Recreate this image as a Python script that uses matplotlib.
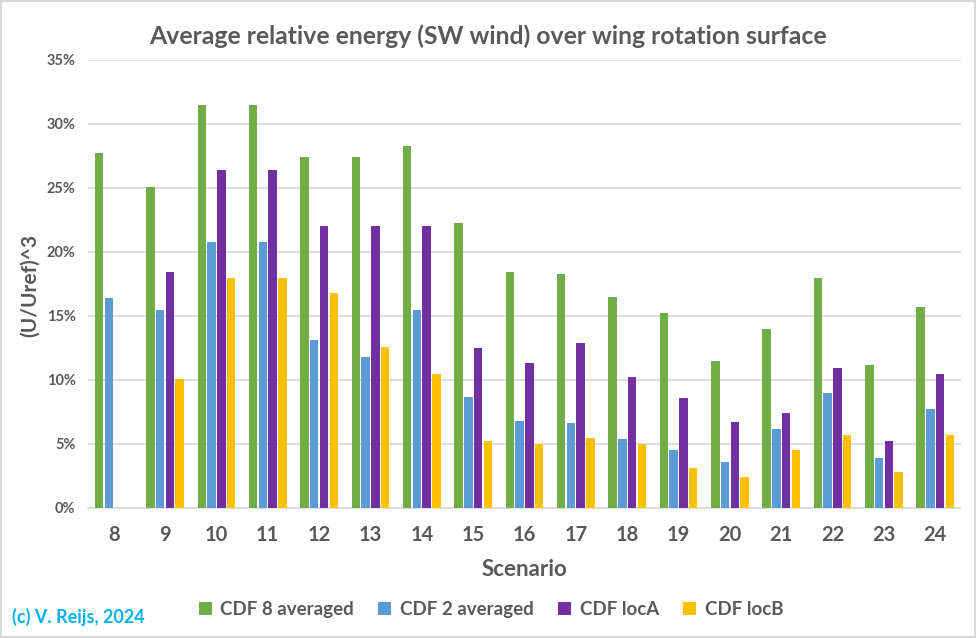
import numpy as np
import matplotlib
matplotlib.use("Agg")
import matplotlib.pyplot as plt
from matplotlib.ticker import PercentFormatter

scenarios = ["8", "9", "10", "11", "12", "13", "14", "15", "16", "17", "18",
             "19", "20", "21", "22", "23", "24"]
cdf8_avg = [27.7, 25.1, 31.5, 31.5, 27.4, 27.4, 28.3, 22.3, 18.4, 18.3, 16.5,
            15.2, 11.5, 14.0, 18.0, 11.2, 15.7]
cdf2_avg = [16.4, 15.5, 20.8, 20.8, 13.1, 11.8, 15.5, 8.7, 6.8, 6.6, 5.4,
            4.5, 3.6, 6.2, 9.0, 3.9, 7.7]
cdf_locA = [np.nan, 18.4, 26.4, 26.4, 22.0, 22.0, 22.0, 12.5, 11.3, 12.9, 10.2,
            8.6, 6.7, 7.4, 10.9, 5.2, 10.5]
cdf_locB = [np.nan, 10.1, 18.0, 18.0, 16.8, 12.6, 10.5, 5.2, 5.0, 5.5, 5.0,
            3.1, 2.4, 4.5, 5.7, 2.8, 5.7]

series = [("CDF 8 averaged", cdf8_avg, "#70AD47"),
          ("CDF 2 averaged", cdf2_avg, "#5B9BD5"),
          ("CDF locA", cdf_locA, "#7030A0"),
          ("CDF locB", cdf_locB, "#FFC000")]

plt.rcParams['font.family'] = ['Lato', 'DejaVu Sans']
txt = "#595959"

fig = plt.figure(figsize=(9.76, 6.38), dpi=100)
ax = fig.add_axes([0.0902, 0.2038, 0.8944, 0.7022])

x = np.arange(len(scenarios))
pitch = 0.19
width = 0.165
for i, (name, vals, col) in enumerate(series):
    ax.bar(x + (i - 1.5) * pitch, vals, width, color=col, label=name, zorder=3)

ax.set_xlim(-0.5, len(scenarios) - 0.5)
ax.set_ylim(0, 35)
ax.set_yticks(np.arange(0, 36, 5))
ax.yaxis.set_major_formatter(PercentFormatter(decimals=0))
ax.grid(axis='y', color="#D9D9D9", linewidth=1.2, zorder=0)
for s in ["top", "right", "left"]:
    ax.spines[s].set_visible(False)
ax.spines["bottom"].set_color("#D9D9D9")
ax.spines["bottom"].set_linewidth(1.2)
ax.tick_params(axis='both', length=0)
ax.tick_params(axis='y', labelsize=10.5, labelcolor=txt, pad=9)
ax.tick_params(axis='x', labelsize=14.5, labelcolor=txt, pad=12)
for lab in ax.get_yticklabels():
    lab.set_fontweight('bold')
ax.set_xticks(x)
ax.set_xticklabels(scenarios, fontweight='bold')

ax.set_xlabel("Scenario", fontsize=16, fontweight='bold', color=txt, labelpad=10)
fig.text(30 / 976, 1 - 285 / 638, "(U/Uref)^3", rotation=90, fontsize=15,
         fontweight='bold', color=txt, ha='center', va='center')

fig.suptitle("Average relative energy (SW wind) over wing rotation surface",
             x=0.5, y=0.962, fontsize=17.8, fontweight='bold', color=txt)

leg = fig.legend(loc='center', bbox_to_anchor=(0.503, 0.044), ncol=4, frameon=False,
                 fontsize=13.5, handlelength=0.7, handleheight=0.7, handletextpad=0.45,
                 columnspacing=1.3)
for t in leg.get_texts():
    t.set_color(txt)
    t.set_fontweight('bold')

fig.text(0.012, 0.033, "(c) V. Reijs, 2024", fontsize=13, fontweight='bold',
         color="#00B0F0", ha='left', va='center')

fig.patches.append(plt.Rectangle((0.001, 0.001), 0.998, 0.998, transform=fig.transFigure,
                                 fill=False, edgecolor="#D9D9D9", linewidth=1.5))

fig.savefig("out.png", dpi=100)
